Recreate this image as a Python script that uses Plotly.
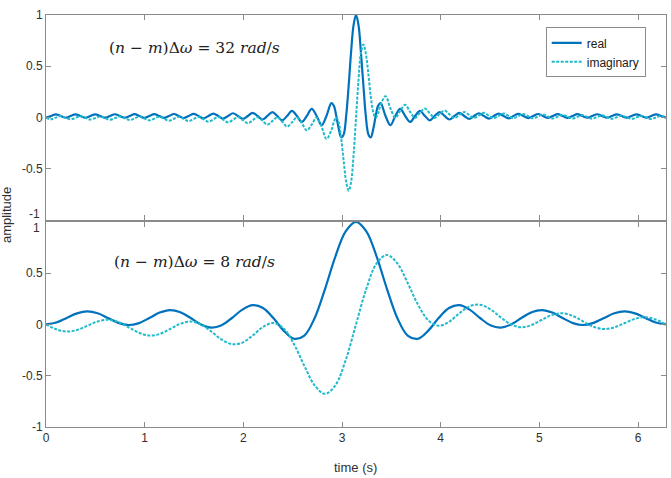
import plotly.graph_objects as go

# ---------------- data ----------------
# top panel: (n-m)Δω = 32 rad/s
t_top = [0.000, 0.050, 0.100, 0.150, 0.199, 0.249, 0.299, 0.349, 0.399, 0.449,
         0.499, 0.549, 0.598, 0.648, 0.698, 0.748, 0.798, 0.848, 0.898, 0.947,
         0.997, 1.047, 1.097, 1.147, 1.197, 1.247, 1.297, 1.346, 1.396, 1.446,
         1.496, 1.546, 1.596, 1.646, 1.695, 1.745, 1.795, 1.845, 1.895, 1.945,
         1.995, 2.045, 2.094, 2.144, 2.194, 2.244, 2.294, 2.344, 2.394, 2.443,
         2.493, 2.543, 2.593, 2.643, 2.693, 2.743, 2.793, 2.842, 2.892,
         2.917, 2.942, 2.967, 2.992, 3.017, 3.042, 3.067, 3.092, 3.117, 3.142,
         3.167, 3.191, 3.217, 3.241, 3.267, 3.291, 3.317, 3.341, 3.366, 3.391,
         3.441, 3.491, 3.540, 3.590, 3.640, 3.690, 3.740, 3.790, 3.840, 3.890,
         3.939, 3.989, 4.039, 4.089, 4.139, 4.189, 4.239, 4.289, 4.338, 4.388,
         4.438, 4.488, 4.538, 4.588, 4.638, 4.687, 4.737, 4.787, 4.837, 4.887,
         4.937, 4.987, 5.036, 5.086, 5.136, 5.186, 5.236, 5.286, 5.336, 5.386,
         5.435, 5.485, 5.535, 5.585, 5.635, 5.685, 5.735, 5.784, 5.834, 5.884,
         5.934, 5.984, 6.034, 6.084, 6.133, 6.183, 6.233, 6.283]

real_top = [0.0, 0.0156, 0.0313, 0.0156, -0.0001, 0.0156, 0.0314, 0.0156, -0.0003, 0.0156,
            0.0318, 0.0156, -0.0007, 0.0156, 0.0323, 0.0156, -0.0013, 0.0156, 0.0330, 0.0156,
            -0.0022, 0.0156, 0.0339, 0.0156, -0.0033, 0.0156, 0.0352, 0.0156, -0.0048, 0.0156,
            0.0369, 0.0156, -0.0068, 0.0156, 0.0392, 0.0156, -0.0094, 0.0156, 0.0424, 0.0156,
            -0.0132, 0.0156, 0.0469, 0.0156, -0.0186, 0.0156, 0.0536, 0.0156, -0.0271, 0.0156,
            0.0647, 0.0156, -0.0421, 0.0156, 0.0858, 0.0156, -0.0744, 0.0156, 0.1413,
            0.116, 0.0156, -0.109, -0.1935, -0.163, 0.0156, 0.308, 0.642, 0.901, 1.0,
            0.901, 0.642, 0.308, 0.0156, -0.163, -0.1935, -0.109, 0.0156, 0.116, 0.1413,
            0.0156, -0.0744, 0.0156, 0.0858, 0.0156, -0.0421, 0.0156, 0.0647, 0.0156, -0.0271,
            0.0156, 0.0536, 0.0156, -0.0186, 0.0156, 0.0469, 0.0156, -0.0132, 0.0156, 0.0424,
            0.0156, -0.0094, 0.0156, 0.0392, 0.0156, -0.0068, 0.0156, 0.0369, 0.0156, -0.0048,
            0.0156, 0.0352, 0.0156, -0.0033, 0.0156, 0.0339, 0.0156, -0.0022, 0.0156, 0.0330,
            0.0156, -0.0013, 0.0156, 0.0323, 0.0156, -0.0007, 0.0156, 0.0318, 0.0156, -0.0003,
            0.0156, 0.0314, 0.0156, -0.0001, 0.0156, 0.0313, 0.0156, 0.0]

imag_top = [0.0, -0.0160, -0.0008, 0.0145, -0.0016, -0.0177, -0.0024, 0.0131, -0.0032, -0.0196,
            -0.0040, 0.0118, -0.0048, -0.0217, -0.0057, 0.0107, -0.0066, -0.0242, -0.0075, 0.0096,
            -0.0085, -0.0271, -0.0096, 0.0085, -0.0107, -0.0305, -0.0118, 0.0075, -0.0131, -0.0346,
            -0.0145, 0.0066, -0.0160, -0.0398, -0.0177, 0.0057, -0.0196, -0.0465, -0.0217, 0.0048,
            -0.0242, -0.0555, -0.0271, 0.0040, -0.0305, -0.0685, -0.0346, 0.0032, -0.0398, -0.0886,
            -0.0465, 0.0024, -0.0555, -0.1247, -0.0685, 0.0016, -0.0886, -0.2085, -0.1247,
            -0.042, 0.0008, -0.050, -0.2085, -0.425, -0.6266, -0.713, -0.6266, -0.368, 0.0,
            0.368, 0.6266, 0.713, 0.6266, 0.425, 0.2085, 0.050, -0.0008, 0.042, 0.1247,
            0.2085, 0.0886, -0.0016, 0.0685, 0.1247, 0.0555, -0.0024, 0.0465, 0.0886, 0.0398,
            -0.0032, 0.0346, 0.0685, 0.0305, -0.0040, 0.0271, 0.0555, 0.0242, -0.0048, 0.0217,
            0.0465, 0.0196, -0.0057, 0.0177, 0.0398, 0.0160, -0.0066, 0.0145, 0.0346, 0.0131,
            -0.0075, 0.0118, 0.0305, 0.0107, -0.0085, 0.0096, 0.0271, 0.0085, -0.0096, 0.0075,
            0.0242, 0.0066, -0.0107, 0.0057, 0.0217, 0.0048, -0.0118, 0.0040, 0.0196, 0.0032,
            -0.0131, 0.0024, 0.0177, 0.0016, -0.0145, 0.0008, 0.0160, 0.0]

# bottom panel: (n-m)Δω = 8 rad/s
t_bot = [0.0000, 0.1047, 0.2094, 0.3142, 0.4189, 0.5236, 0.6283, 0.7330, 0.8378, 0.9425,
         1.0472, 1.1519, 1.2566, 1.3614, 1.4661, 1.5708, 1.6755, 1.7802, 1.8850, 1.9897,
         2.0944, 2.1991, 2.3038, 2.4086, 2.5133, 2.6180, 2.7227, 2.8274, 2.9322, 3.0369,
         3.1416, 3.2463, 3.3510, 3.4558, 3.5605, 3.6652, 3.7699, 3.8746, 3.9794, 4.0841,
         4.1888, 4.2935, 4.3982, 4.5029, 4.6077, 4.7124, 4.8171, 4.9218, 5.0265, 5.1313,
         5.2360, 5.3407, 5.4454, 5.5501, 5.6549, 5.7596, 5.8643, 5.9690, 6.0737, 6.1785,
         6.2832]

real_bot = [0.0, 0.0182, 0.0625, 0.1072, 0.1264, 0.1083, 0.0625, 0.0152, -0.0059, 0.0129,
            0.0625, 0.1152, 0.1398, 0.1194, 0.0625, 0.0, -0.0309, -0.0077, 0.0625, 0.1436,
            0.1875, 0.1598, 0.0625, -0.0608, -0.1398, -0.1083, 0.0625, 0.3450, 0.6604, 0.9069,
            1.0, 0.9069, 0.6604, 0.3450, 0.0625, -0.1083, -0.1398, -0.0608, 0.0625, 0.1598,
            0.1875, 0.1436, 0.0625, -0.0077, -0.0309, 0.0, 0.0625, 0.1194, 0.1398, 0.1152,
            0.0625, 0.0129, -0.0059, 0.0152, 0.0625, 0.1083, 0.1264, 0.1072, 0.0625, 0.0182,
            0.0]

imag_bot = [0.0, -0.0475, -0.0694, -0.0546, -0.0133, 0.0290, 0.0454, 0.0233, -0.0278, -0.0814,
            -0.1083, -0.0933, -0.0454, 0.0063, 0.0278, 0.0, -0.0694, -0.1474, -0.1924, -0.1774,
            -0.1083, -0.0253, 0.0133, -0.0395, -0.1924, -0.4040, -0.5946, -0.6771, -0.5946, -0.3481,
            0.0, 0.3481, 0.5946, 0.6771, 0.5946, 0.4040, 0.1924, 0.0395, -0.0133, 0.0253,
            0.1083, 0.1774, 0.1924, 0.1474, 0.0694, 0.0, -0.0278, -0.0063, 0.0454, 0.0933,
            0.1083, 0.0814, 0.0278, -0.0233, -0.0454, -0.0290, 0.0133, 0.0546, 0.0694, 0.0475,
            0.0]

x_ticks = [0, 1, 2, 3, 4, 5, 6]
y_ticks = [-1, -0.5, 0, 0.5, 1]
y_tick_text_top = ["", "-0.5", "0", "0.5", "1"]      # "-1" drawn separately (nudged up)
y_tick_text_bot = ["-1", "-0.5", "0", "0.5", ""]     # "1" drawn separately (nudged down)
series_names = ["real", "imaginary"]
panel_labels = ["(<i>n</i> \u2212 <i>m</i>)\u0394<i>\u03c9</i> = 32 <i>rad</i>/<i>s</i>",
                "(<i>n</i> \u2212 <i>m</i>)\u0394<i>\u03c9</i> = 8 <i>rad</i>/<i>s</i>"]

# ---------------- figure ----------------
REAL_C = "#0072BD"
IMAG_C = "#1FBACB"

fig = go.Figure()
fig.add_trace(go.Scatter(x=t_top, y=real_top, mode="lines", name=series_names[0],
                         line=dict(color=REAL_C, width=2.2, shape="spline", smoothing=1),
                         xaxis="x", yaxis="y"))
fig.add_trace(go.Scatter(x=t_top, y=imag_top, mode="lines", name=series_names[1],
                         line=dict(color=IMAG_C, width=2, dash="3px,1.5px", shape="spline", smoothing=1),
                         xaxis="x", yaxis="y"))
fig.add_trace(go.Scatter(x=t_bot, y=real_bot, mode="lines", showlegend=False,
                         line=dict(color=REAL_C, width=2.2, shape="spline", smoothing=1),
                         xaxis="x2", yaxis="y2"))
fig.add_trace(go.Scatter(x=t_bot, y=imag_bot, mode="lines", showlegend=False,
                         line=dict(color=IMAG_C, width=2, dash="3px,1.5px", shape="spline", smoothing=1),
                         xaxis="x2", yaxis="y2"))

FONT = "Liberation Sans, Arial, sans-serif"
tick_font = dict(family=FONT, size=12, color="#303030")
axis_common = dict(showline=True, linecolor="#8a8a8a", linewidth=1, mirror="ticks",
                   ticks="inside", ticklen=5, tickcolor="#8a8a8a", zeroline=False,
                   showgrid=False, tickfont=tick_font)

PI2 = 6.2832
fig.update_layout(
    width=671, height=478,
    margin=dict(l=46, r=5, t=15, b=51),
    paper_bgcolor="white", plot_bgcolor="white",
    xaxis=dict(domain=[0, 1], range=[0, PI2], anchor="y", tickvals=x_ticks,
               showticklabels=False, **axis_common),
    yaxis=dict(domain=[0.502, 1], range=[-1, 1], anchor="x", tickvals=y_ticks,
               ticktext=y_tick_text_top, **axis_common),
    xaxis2=dict(domain=[0, 1], range=[0, PI2], anchor="y2", tickvals=x_ticks,
                ticktext=[str(v) for v in x_ticks], **axis_common),
    yaxis2=dict(domain=[0, 0.498], range=[-1, 1], anchor="x2", tickvals=y_ticks,
                ticktext=y_tick_text_bot, **axis_common),
    legend=dict(x=0.806, y=0.97, xanchor="left", yanchor="top",
                bgcolor="white", bordercolor="#8a8a8a", borderwidth=1,
                font=dict(family=FONT, size=12, color="#202020"),
                tracegroupgap=0, itemwidth=30),
    showlegend=True,
)

# end tick labels nudged apart, as in the reference
fig.add_annotation(text="-1", xref="paper", yref="y", x=-0.0066, y=-1, yshift=6,
                   showarrow=False, xanchor="right", yanchor="middle", font=tick_font)
fig.add_annotation(text="1", xref="paper", yref="y2", x=-0.0066, y=1, yshift=-6,
                   showarrow=False, xanchor="right", yanchor="middle", font=tick_font)

eq_font = dict(family="DejaVu Serif, serif", size=15.5, color="#202020")
fig.add_annotation(text=panel_labels[0], xref="paper", yref="paper", x=0.2393, y=0.921,
                   showarrow=False, font=eq_font, xanchor="center", yanchor="middle")
fig.add_annotation(text=panel_labels[1], xref="paper", yref="paper", x=0.240, y=0.401,
                   showarrow=False, font=eq_font, xanchor="center", yanchor="middle")
fig.add_annotation(text="time (s)", xref="paper", yref="paper", x=0.4996, y=-0.0972,
                   showarrow=False, xanchor="center", yanchor="middle",
                   font=dict(family=FONT, size=13, color="#303030"))
fig.add_annotation(text="amplitude", xref="paper", yref="paper", x=-0.0625, y=0.515,
                   showarrow=False, textangle=-90, xanchor="center", yanchor="middle",
                   font=dict(family=FONT, size=13, color="#303030"))

fig.write_html("out.html")
